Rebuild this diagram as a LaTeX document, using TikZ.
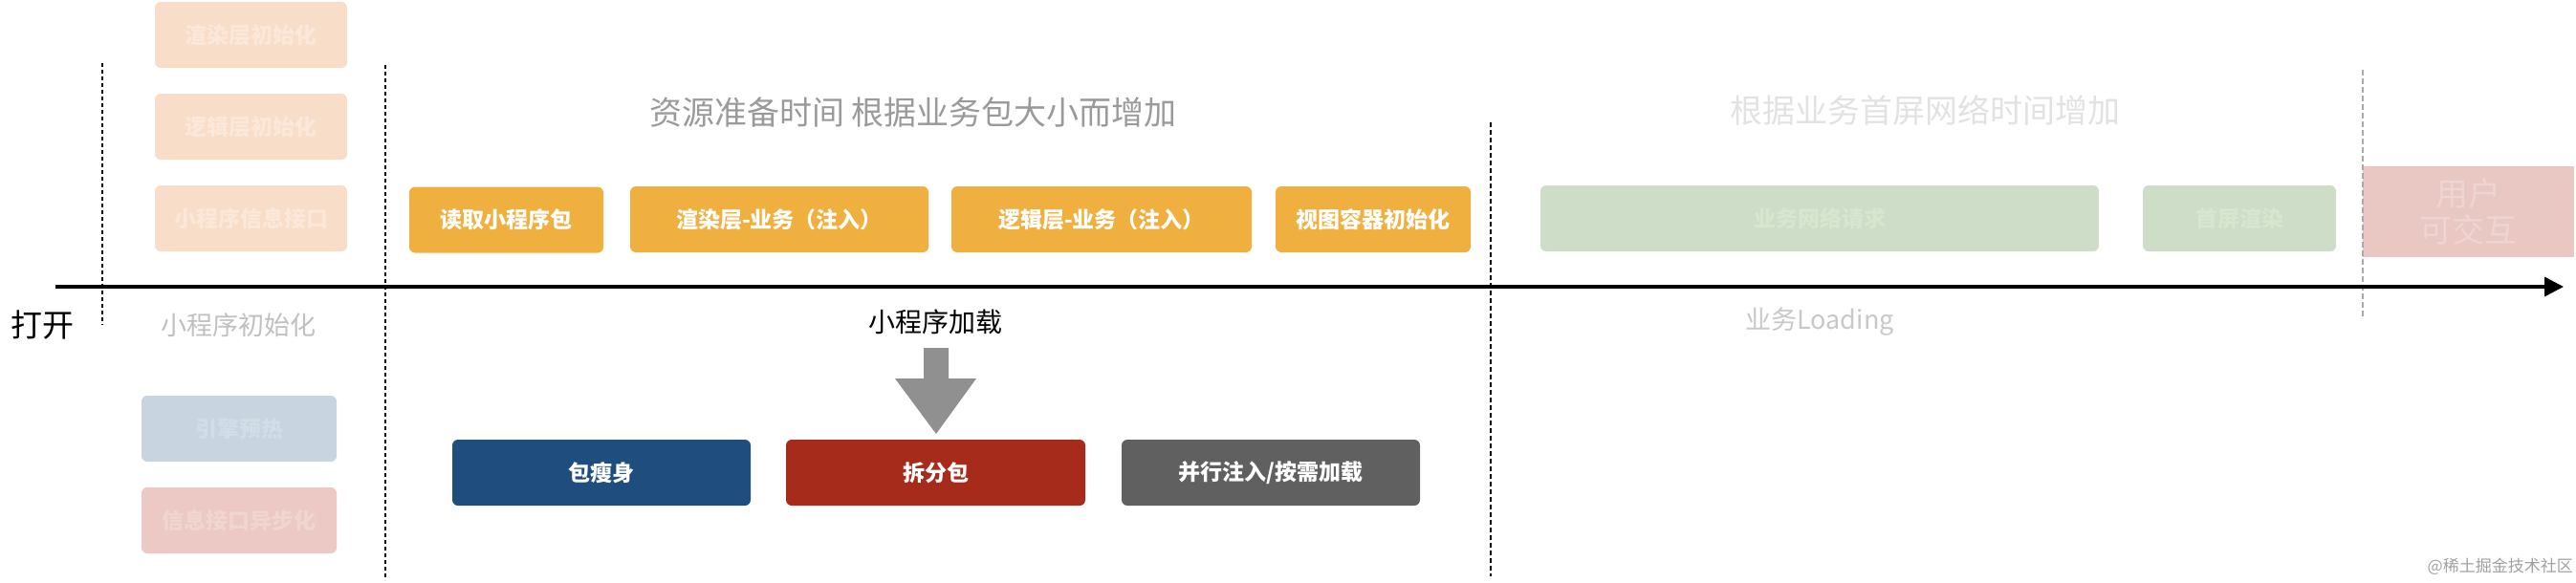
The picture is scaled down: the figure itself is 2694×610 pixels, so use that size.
\documentclass[tikz,border=0pt]{standalone}
\usepackage{fontspec}
\setmainfont{Noto Sans CJK SC}
\usetikzlibrary{arrows.meta}
\definecolor{orangebox}{HTML}{F0B040}
\definecolor{fadeorange}{HTML}{F8DDC9}
\definecolor{fadeorangetxt}{HTML}{FBE8DA}
\definecolor{fadeblue}{HTML}{C8D4E0}
\definecolor{fadebluetxt}{HTML}{D2DDE7}
\definecolor{fadered}{HTML}{ECC9C4}
\definecolor{faderedtxt}{HTML}{F1D5D1}
\definecolor{fadegreen}{HTML}{CDDDC8}
\definecolor{fadegreentxt}{HTML}{D6E6CF}
\definecolor{pinkbox}{HTML}{E9C8C4}
\definecolor{pinktxt}{HTML}{EFD5D2}
\definecolor{darkblue}{HTML}{1F4D7D}
\definecolor{darkred}{HTML}{A62B1A}
\definecolor{darkgray}{HTML}{606060}
\definecolor{arrowgray}{HTML}{909090}
\tikzset{
  pbox/.style={rounded corners=6pt, inner sep=0pt, minimum height=69pt, align=center,
    font=\fontsize{23}{27}\selectfont\bfseries},
  solidbox/.style={pbox, text=white},
  lbl/.style={inner sep=0pt, align=center},
  divider/.style={line width=2pt, dash pattern=on 4pt off 3pt},
}
\begin{document}
\begin{tikzpicture}[x=1pt,y=-1pt]
\useasboundingbox (0,0) rectangle (2694,610);

% dividers
\coordinate (d1t) at (107,66);  \coordinate (d1b) at (107,340);
\coordinate (d2t) at (403,68);  \coordinate (d2b) at (403,607);
\coordinate (d3t) at (1559,128); \coordinate (d3b) at (1559,603);
\coordinate (d4t) at (2471,73); \coordinate (d4b) at (2471,333);
\draw[divider] (d1t) -- (d1b);
\draw[divider] (d2t) -- (d2b);
\draw[line width=2pt, dash pattern=on 5pt off 3pt] (d3t) -- (d3b);

% faded left boxes
\node[pbox, fill=fadeorange, text=fadeorangetxt, minimum width=201pt] (l1) at (262.5,36.5) {渲染层初始化};
\node[pbox, fill=fadeorange, text=fadeorangetxt, minimum width=201pt] (l2) at (262.5,132.5) {逻辑层初始化};
\node[pbox, fill=fadeorange, text=fadeorangetxt, minimum width=201pt] (l3) at (262.5,228.5) {小程序信息接口};
\node[pbox, fill=fadeblue, text=fadebluetxt, minimum width=204pt] (b1) at (250,448.5) {引擎预热};
\node[pbox, fill=fadered, text=faderedtxt, minimum width=204pt] (b2) at (250,544.5) {信息接口异步化};

% orange boxes
\node[solidbox, fill=orangebox, minimum width=203pt] (o1) at (529.5,230) {读取小程序包};
\node[solidbox, fill=orangebox, minimum width=312pt] (o2) at (815,229.5) {渲染层-业务（注入）};
\node[solidbox, fill=orangebox, minimum width=314pt] (o3) at (1152,229.5) {逻辑层-业务（注入）};
\node[solidbox, fill=orangebox, minimum width=204pt] (o4) at (1436,229.5) {视图容器初始化};

% green boxes
\node[pbox, fill=fadegreen, text=fadegreentxt, minimum width=584pt] (g1) at (1903,228.5) {业务网络请求};
\node[pbox, fill=fadegreen, text=fadegreentxt, minimum width=202pt] (g2) at (2342,228.5) {首屏渲染};

% user interactive
\node[inner sep=0pt, fill=pinkbox, text=pinktxt, minimum width=221pt, minimum height=95pt, align=center,
  font=\fontsize{34}{38}\selectfont] (p) at (2581.5,221.5) {用户\\可交互};
\draw[line width=1.5pt, dash pattern=on 6pt off 3pt, draw={rgb,255:red,176;green,168;blue,168}] (d4t) -- (d4b);

% bottom boxes
\node[solidbox, fill=darkblue, minimum width=312pt] (s1) at (629,494.5) {包瘦身};
\node[solidbox, fill=darkred, minimum width=313pt] (s2) at (978.5,494.5) {拆分包};
\node[solidbox, fill=darkgray, minimum width=312pt] (s3) at (1329,494.5) {并行注入/按需加载};

% titles and labels
\node[lbl, text={rgb,255:red,154;green,154;blue,154}, font=\fontsize{34}{38}\selectfont] (t1) at (955,118) {资源准备时间 根据业务包大小而增加};
\node[lbl, text={rgb,255:red,226;green,226;blue,226}, font=\fontsize{34}{38}\selectfont] (t2) at (2013,115) {根据业务首屏网络时间增加};
\node[lbl, text=black, font=\fontsize{33}{36}\selectfont] (open) at (44,340) {打开};
\node[lbl, text={rgb,255:red,192;green,192;blue,192}, font=\fontsize{27}{30}\selectfont] (init) at (249.5,340) {小程序初始化};
\node[lbl, text=black, font=\fontsize{28}{31}\selectfont] (load) at (978,337) {小程序加载};
\node[lbl, text={rgb,255:red,200;green,200;blue,200}, font=\fontsize{27}{30}\selectfont] (bl) at (1903,337) {业务Loading};
\node[lbl, anchor=east, text={rgb,255:red,160;green,160;blue,160}, font=\fontsize{17}{20}\selectfont] (wm) at (2691,593) {@稀土掘金技术社区};

% axis
\coordinate (ax0) at (58,300);
\coordinate (ax1) at (2681,300);
\draw[line width=3.5pt, -{Triangle[length=20pt,width=20pt]}] (ax0) -- (ax1);

% block arrow
\fill[arrowgray] (966,364) -- (992,364) -- (992,396) -- (1021,396) -- (979,454) -- (936,396) -- (966,396) -- cycle;
\end{tikzpicture}
\end{document}
